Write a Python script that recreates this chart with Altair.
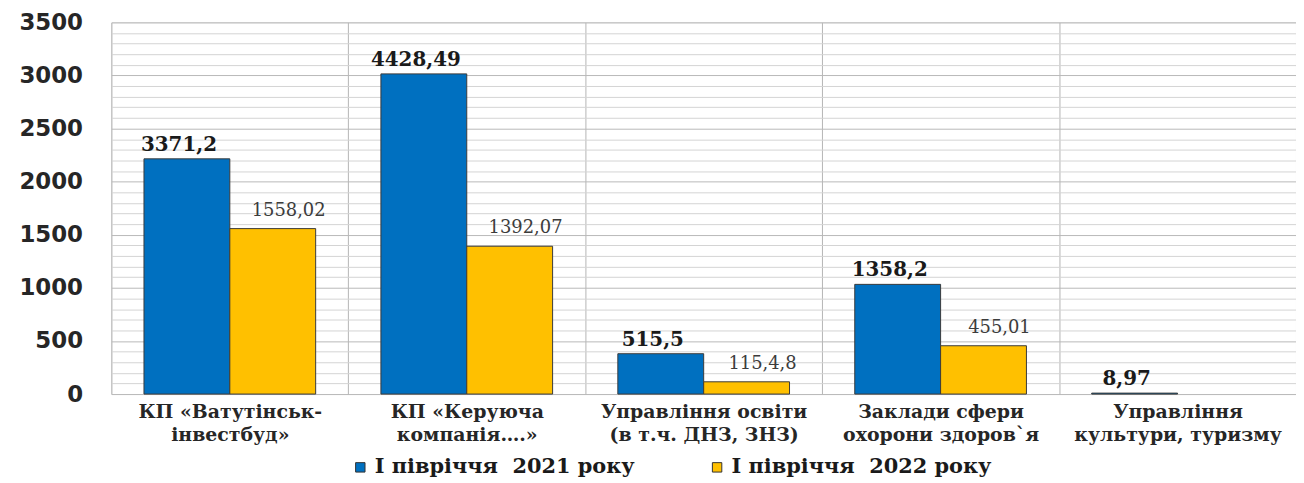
import altair as alt
import pandas as pd

categories = [
    "КП «Ватутінськ-|інвестбуд»",
    "КП «Керуюча|компанія….»",
    "Управління  освіти|(в т.ч. ДНЗ, ЗНЗ)",
    "Заклади сфери|охорони здоров`я",
    "Управління|культури, туризму",
]
series = ["І півріччя\u00a0 2021 року", "І півріччя\u00a0 2022 року"]
colors = ["#0070C0", "#FFC000"]

# bar heights as drawn in the picture
bars_2021 = [2215, 3015, 380, 1033, 8.97]
bars_2022 = [1558.02, 1392.07, 115.48, 455.01]
# data labels as printed
labels_2021 = ["3371,2", "4428,49", "515,5", "1358,2", "8,97"]
labels_2022 = ["1558,02", "1392,07", "115,4,8", "455,01"]

rows = []
for c, v, l in zip(categories, bars_2021, labels_2021):
    rows.append({"cat": c, "series": series[0], "value": v, "label": l})
for c, v, l in zip(categories, bars_2022, labels_2022):
    rows.append({"cat": c, "series": series[1], "value": v, "label": l})
df = pd.DataFrame(rows)

x = alt.X(
    "cat:N", sort=categories,
    scale=alt.Scale(paddingInner=0, paddingOuter=0),
    axis=alt.Axis(
        title=None, tickBand="extent", grid=True, gridColor="#b4b4b4", gridWidth=1,
        ticks=False, domain=False, labelAngle=0,
        labelExpr="split(datum.label, '|')",
        labelFont="DejaVu Serif", labelFontWeight="bold", labelFontSize=19,
        labelLineHeight=23, labelPadding=9, labelColor="#262626", labelLimit=400,
    ),
)
xo = alt.XOffset("series:N", sort=series, scale=alt.Scale(paddingOuter=0.38, paddingInner=0))
y = alt.Y(
    "value:Q",
    scale=alt.Scale(domain=[0, 3500], nice=False),
    axis=alt.Axis(
        title=None, values=list(range(0, 3501, 100)),
        labelExpr="datum.value % 500 === 0 ? datum.value : ''",
        labelOverlap=False, ticks=False, domain=False,
        gridColor={"condition": {"test": "datum.value % 500 === 0", "value": "#b8b8b8"}, "value": "#d4d4d4"},
        labelFont="DejaVu Sans", labelFontWeight="bold", labelFontSize=23,
        labelColor="#262626", labelPadding=29,
    ),
)

bars = alt.Chart(df).mark_bar(stroke="#3a3a3a", strokeWidth=1).encode(
    x=x, xOffset=xo, y=y,
    color=alt.Color(
        "series:N", sort=series,
        scale=alt.Scale(domain=series, range=colors),
        legend=alt.Legend(
            orient="none", legendX=240, legendY=437, direction="horizontal", title=None,
            symbolType="square", symbolSize=90, symbolStrokeColor="#333", symbolStrokeWidth=1,
            labelFont="DejaVu Serif", labelFontWeight="bold", labelFontSize=21,
            labelColor="#1a1a1a", columnPadding=72, labelLimit=400,
        ),
    ),
)

t1 = alt.Chart(df).transform_filter(alt.datum.series == series[0]).mark_text(
    font="DejaVu Serif", fontWeight="bold", fontSize=20, color="#1a1a1a",
    baseline="bottom", dy=-4, dx=-8,
).encode(x=x, xOffset=xo, y=y, text="label:N")

t2 = alt.Chart(df).transform_filter(alt.datum.series == series[1]).mark_text(
    font="DejaVu Serif", fontSize=18, color="#3c3c3c",
    baseline="bottom", dy=-9, dx=16,
).encode(x=x, xOffset=xo, y=y, text="label:N")

chart = alt.layer(bars, t1, t2).properties(
    width=1192, height=374,
    padding={"left": 10, "top": 2, "right": 0, "bottom": 0},
).configure_view(stroke=None).configure(background="white")

chart.save("out.html", embed_options={"renderer": "svg", "actions": False})
